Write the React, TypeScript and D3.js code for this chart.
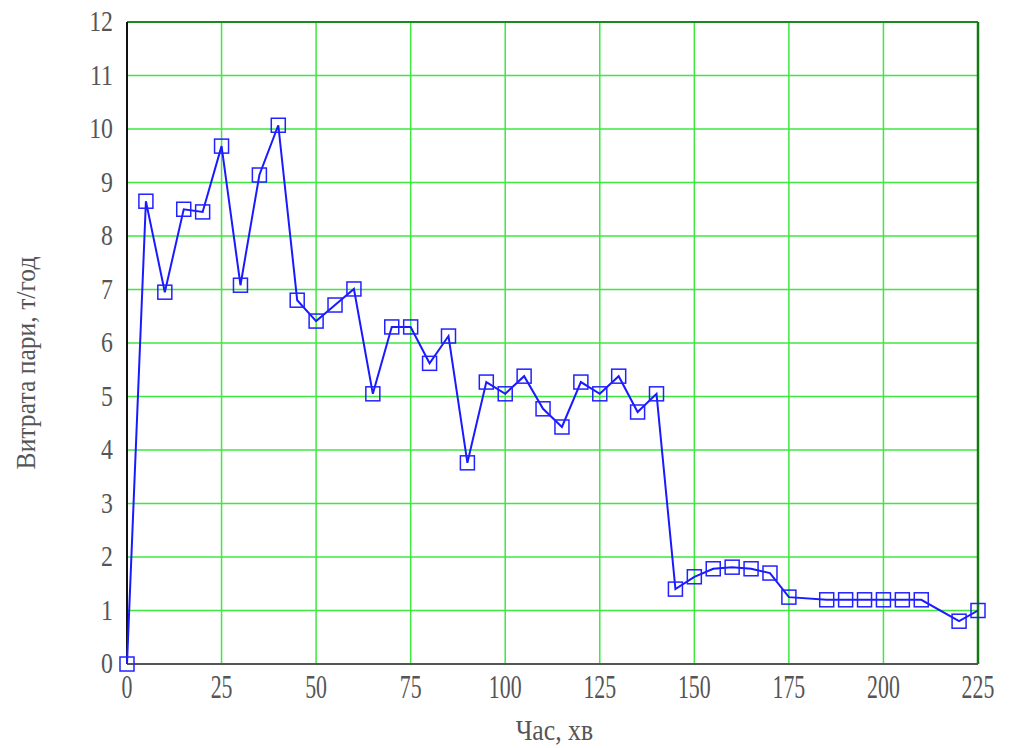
import React, { useEffect, useRef } from 'react';
import * as d3 from 'd3';

// time, minutes
const minutes = [
  0, 5, 10, 15, 20, 25, 30, 35, 40, 45, 50, 55, 60, 65, 70, 75, 80, 85, 90, 95,
  100, 105, 110, 115, 120, 125, 130, 135, 140, 145, 150, 155, 160, 165, 170, 175,
  185, 190, 195, 200, 205, 210, 220, 225,
];

// steam flow, t/h
const steamFlow = [
  0, 8.65, 6.95, 8.5, 8.45, 9.68, 7.08, 9.14, 10.07, 6.8, 6.41, 6.71, 7.01, 5.05,
  6.3, 6.3, 5.62, 6.13, 3.76, 5.27, 5.05, 5.38, 4.77, 4.43, 5.27, 5.05, 5.38, 4.71,
  5.05, 1.4, 1.63, 1.78, 1.81, 1.78, 1.7, 1.25, 1.2, 1.2, 1.2, 1.2, 1.2, 1.2, 0.8, 1.0,
];

const xTicks = [0, 25, 50, 75, 100, 125, 150, 175, 200, 225];
const yTicks = [0, 1, 2, 3, 4, 5, 6, 7, 8, 9, 10, 11, 12];

const xTitle = 'Час, хв';
const yTitle = 'Витрата пари, т/год';

const App = () => {
  const svgRef = useRef<SVGSVGElement | null>(null);

  useEffect(() => {
    const margin = { top: 22, right: 31, bottom: 84, left: 127 };
    const W = 1009;
    const H = 748;
    const width = W - margin.left - margin.right;
    const height = H - margin.top - margin.bottom;

    const svgEl = d3.select(svgRef.current);
    svgEl.selectAll('*').remove();

    const svg = svgEl
      .attr('width', W)
      .attr('height', H)
      .style('background', '#fff')
      .append('g')
      .attr('transform', `translate(${margin.left},${margin.top})`);

    const x = d3.scaleLinear().domain([0, 225]).range([0, width]);
    const y = d3.scaleLinear().domain([0, 12]).range([height, 0]);

    const font = '"Liberation Serif", "DejaVu Serif", serif';
    const textColor = '#555';

    // grid
    svg.append('g')
      .selectAll('line')
      .data(xTicks)
      .enter()
      .append('line')
      .attr('x1', d => x(d))
      .attr('x2', d => x(d))
      .attr('y1', 0)
      .attr('y2', height)
      .attr('stroke', '#3ee83e')
      .attr('stroke-width', 1.5);

    svg.append('g')
      .selectAll('line')
      .data(yTicks)
      .enter()
      .append('line')
      .attr('x1', 0)
      .attr('x2', width)
      .attr('y1', d => y(d))
      .attr('y2', d => y(d))
      .attr('stroke', '#3ee83e')
      .attr('stroke-width', 1.5);

    // frame
    svg.append('line').attr('x1', 0).attr('x2', width).attr('y1', 0).attr('y2', 0)
      .attr('stroke', '#1a8a1a').attr('stroke-width', 2);
    svg.append('line').attr('x1', width).attr('x2', width).attr('y1', 0).attr('y2', height)
      .attr('stroke', '#137a13').attr('stroke-width', 2.5);
    svg.append('line').attr('x1', 0).attr('x2', width).attr('y1', height).attr('y2', height)
      .attr('stroke', '#555').attr('stroke-width', 2);
    svg.append('line').attr('x1', 0).attr('x2', 0).attr('y1', 0).attr('y2', height)
      .attr('stroke', '#111').attr('stroke-width', 2);

    // tick labels
    svg.append('g')
      .selectAll('text')
      .data(yTicks)
      .enter()
      .append('text')
      .attr('transform', d => `translate(-14,${y(d) + 9}) scale(0.88,1.12)`)
      .attr('text-anchor', 'end')
      .style('font-family', font)
      .style('font-size', '27px')
      .attr('fill', textColor)
      .text(d => d);

    svg.append('g')
      .selectAll('text')
      .data(xTicks)
      .enter()
      .append('text')
      .attr('transform', d => `translate(${x(d)},${height + 34}) scale(0.78,1.2)`)
      .attr('text-anchor', 'middle')
      .style('font-family', font)
      .style('font-size', '28px')
      .attr('fill', textColor)
      .text(d => d);

    // axis titles
    svg.append('text')
      .attr('transform', `translate(${-92},${height / 2 + 20}) rotate(-90) scale(0.95,1.05)`)
      .attr('text-anchor', 'middle')
      .style('font-family', font)
      .style('font-size', '27px')
      .attr('fill', textColor)
      .text(yTitle);

    svg.append('text')
      .attr('transform', `translate(${x(113)},${height + 76}) scale(0.92,1.05)`)
      .attr('text-anchor', 'middle')
      .style('font-family', font)
      .style('font-size', '28px')
      .attr('fill', textColor)
      .text(xTitle);

    const data = minutes.map((m, i) => ({ t: m, v: steamFlow[i] }));

    const lineGen = d3.line<{ t: number; v: number }>()
      .x(d => x(d.t))
      .y(d => y(d.v));

    svg.append('path')
      .datum(data)
      .attr('fill', 'none')
      .attr('stroke', '#1a1aff')
      .attr('stroke-width', 2)
      .attr('d', lineGen);

    const s = 14;
    svg.append('g')
      .selectAll('rect')
      .data(data)
      .enter()
      .append('rect')
      .attr('x', d => x(d.t) - s / 2)
      .attr('y', d => y(d.v) - s / 2)
      .attr('width', s)
      .attr('height', s)
      .attr('fill', 'none')
      .attr('stroke', '#2222ff')
      .attr('stroke-width', 1.5);
  }, []);

  return (
    <svg
      ref={svgRef}
      style={{ position: 'absolute', left: 0, top: 0, display: 'block' }}
    ></svg>
  );
};

export default App;
